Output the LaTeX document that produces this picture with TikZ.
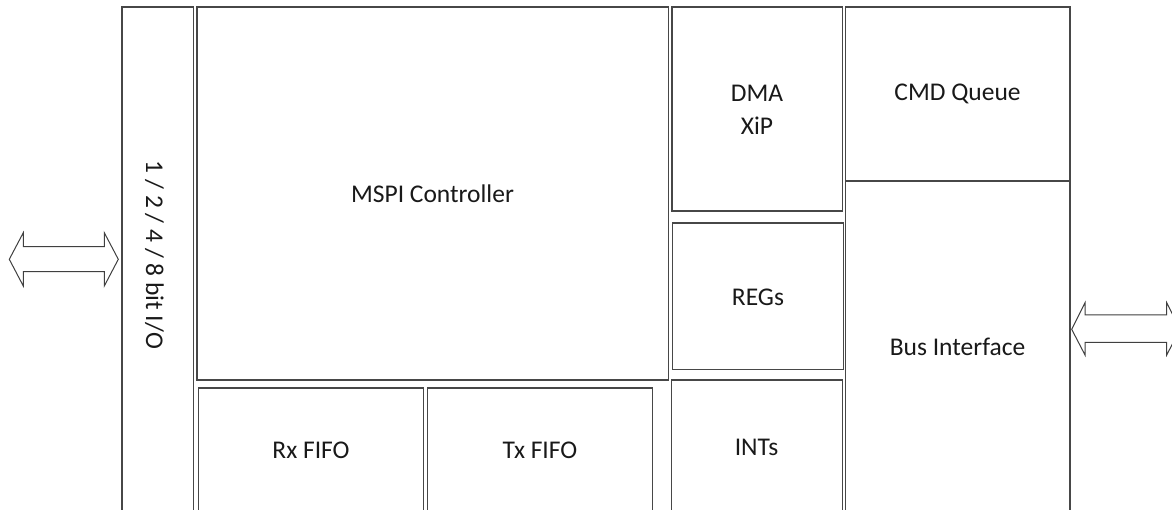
\documentclass[tikz,border=0pt]{standalone}
\usepackage{fontspec}
\setmainfont{Carlito}
\begin{document}
\begin{tikzpicture}[x=1pt,y=-1pt,
  frame/.style={draw=black!72, line width=1.3pt},
  txt/.style={font=\fontsize{25.5}{33}\selectfont, text=black!90, inner sep=0pt, align=center},
  port/.style={draw=black!75, line width=1pt, fill=white, line join=miter}]
\useasboundingbox (0,0) rectangle (1172,510);
\clip (0,0) rectangle (1172,510);

% blocks (the lower ones run on past the bottom edge)
\draw[frame] (122,7) rectangle (193.5,530);
\draw[frame] (197,7) rectangle (668.3,380);
\draw[frame] (198.7,388) rectangle (423.3,530);
\draw[frame] (427.3,388) rectangle (652.3,530);
\draw[frame] (672,7) rectangle (842.6,211);
\draw[frame] (672.7,223) rectangle (843.3,369.5);
\draw[frame] (671.8,380) rectangle (842.7,530);
\draw[frame] (845.2,7) rectangle (1070,180.4);
\draw[frame] (845.2,181.2) rectangle (1070,530);

% labels
\node[txt, rotate=-90] (io)   at (154.5,255) {1 / 2 / 4 / 8 bit I/O};
\node[txt] (mspi) at (432.5,194) {MSPI Controller};
\node[txt] (rx)   at (311,450) {Rx FIFO};
\node[txt] (tx)   at (540,450) {Tx FIFO};
\node[txt] (dma)  at (757,110) {DMA\\XiP};
\node[txt] (regs) at (758,297) {REGs};
\node[txt] (ints) at (756.5,447) {INTs};
\node[txt] (cmd)  at (957.5,93.5) {CMD Queue};
\node[txt] (bus)  at (957.5,347) {Bus Interface};

% external ports
\draw[port] (9.3,259.3) -- (23.3,232.7) -- (23.3,246.7) -- (104.3,246.7)
  -- (104.3,232.7) -- (118.3,259.3) -- (104.3,286) -- (104.3,271.7)
  -- (23.3,271.7) -- (23.3,286) -- cycle;
\draw[port] (1071.7,329.3) -- (1085,302.7) -- (1085,315) -- (1166.7,315)
  -- (1166.7,302.7) -- (1180,329.3) -- (1166.7,355) -- (1166.7,342.3)
  -- (1085,342.3) -- (1085,355) -- cycle;
\end{tikzpicture}
\end{document}
